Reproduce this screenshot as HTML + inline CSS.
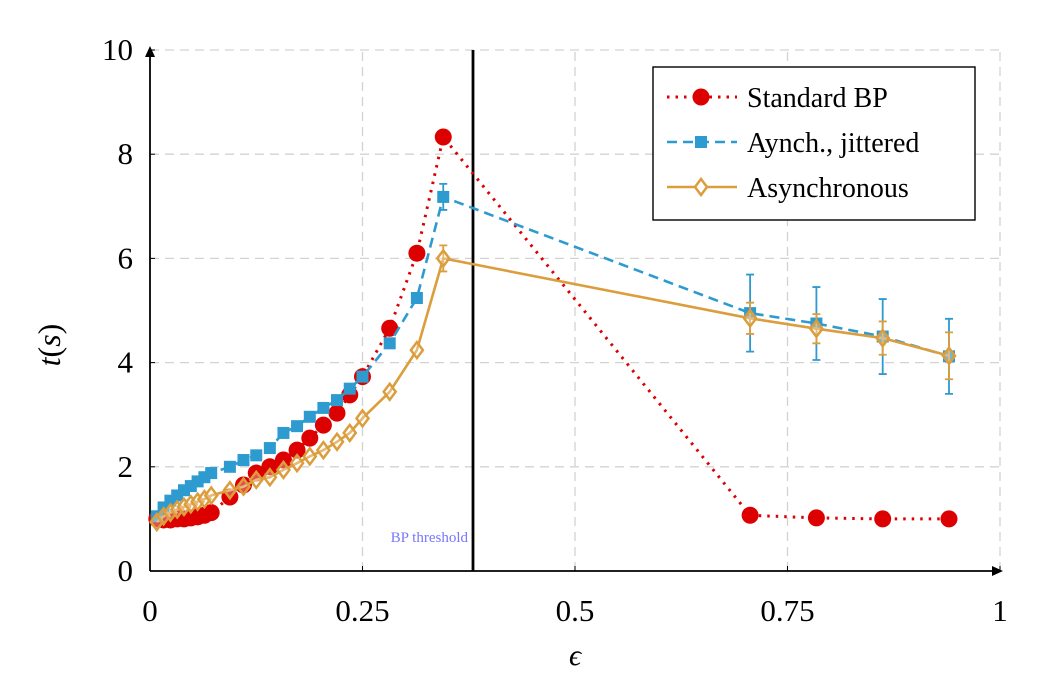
<!DOCTYPE html>
<html><head><meta charset="utf-8"><style>
html,body{margin:0;padding:0;background:#fff;}
svg{display:block;font-family:"Liberation Serif",serif;}
</style></head><body>
<svg id="chart" width="1043" height="674" viewBox="0 0 1043 674" xmlns="http://www.w3.org/2000/svg"></svg>
<script>
const epsilon = [0.008,0.016,0.024,0.032,0.040,0.048,0.056,0.064,0.072,0.094,0.110,0.125,0.141,0.157,0.173,0.188,0.204,0.220,0.235,0.250,0.282,0.314,0.345,0.706,0.784,0.862,0.940];
const standardBP = [1.0,0.98,0.98,1.0,1.0,1.02,1.04,1.07,1.12,1.42,1.65,1.88,2.0,2.13,2.32,2.55,2.8,3.03,3.38,3.73,4.66,6.1,8.33,1.07,1.02,1.0,1.0];
const jittered = [1.05,1.22,1.35,1.45,1.55,1.63,1.72,1.8,1.88,2.0,2.13,2.22,2.36,2.65,2.78,2.96,3.13,3.28,3.5,3.73,4.37,5.24,7.18,4.95,4.75,4.5,4.12];
const jitteredErr = [0,0,0,0,0,0,0,0,0,0,0,0,0,0,0,0,0,0,0,0,0,0,0.25,0.74,0.7,0.72,0.72];
const asynchronous = [0.94,1.05,1.12,1.18,1.23,1.28,1.33,1.38,1.45,1.55,1.62,1.75,1.8,1.94,2.07,2.2,2.32,2.48,2.65,2.93,3.44,4.24,6.0,4.85,4.65,4.47,4.13];
const asyncErr = [0,0,0,0,0,0,0,0,0,0,0,0,0,0,0,0,0,0,0,0,0,0,0.25,0.3,0.28,0.32,0.45];
const xTicks = [0,0.25,0.5,0.75,1];
const xTickLabels = ["0","0.25","0.5","0.75","1"];
const yTicks = [0,2,4,6,8,10];
const yTickLabels = ["0","2","4","6","8","10"];
const threshold = 0.38;

const NS="http://www.w3.org/2000/svg";
const svg=document.getElementById('chart');
const X0=150,X1=1000,Y0=571,Y1=50;
const sx=v=>X0+v*(X1-X0);
const sy=v=>Y0-v/10*(Y0-Y1);
function mk(tag,attrs,parent){const e=document.createElementNS(NS,tag);for(const k in attrs)e.setAttribute(k,attrs[k]);(parent||svg).appendChild(e);return e;}

const grid=mk('g',{});


xTicks.slice(1).forEach(v=>{const l=mk('line',{x1:sx(v),x2:sx(v),y1:Y0,y2:Y1,stroke:'#d3d3d3','stroke-width':1.3,'stroke-dasharray':'9,6'},grid);

});
yTicks.slice(1).forEach(v=>{const l=mk('line',{x1:X0,x2:X1,y1:sy(v),y2:sy(v),stroke:'#d3d3d3','stroke-width':1.3,'stroke-dasharray':'9,6'},grid);

});

const xa=mk('path',{d:`M${X0} ${Y0}H1000`,stroke:'#000','stroke-width':1.8,fill:'none'});


mk('path',{d:`M1003 ${Y0}l-11 -5v10z`,fill:'#000'});
const ya=mk('path',{d:`M${X0} ${Y0}V50`,stroke:'#000','stroke-width':1.8,fill:'none'});


mk('path',{d:`M${X0} 46l-5 11h10z`,fill:'#000'});
xTicks.forEach((v,i)=>{mk('line',{x1:sx(v),x2:sx(v),y1:Y0,y2:Y0-5,stroke:'#000','stroke-width':1});
const t=mk('text',{x:sx(v),y:621,'font-size':31,'text-anchor':'middle'});t.textContent=xTickLabels[i];

});
yTicks.forEach((v,i)=>{mk('line',{x1:X0,x2:X0+5,y1:sy(v),y2:sy(v),stroke:'#000','stroke-width':1});
const t=mk('text',{x:133,y:sy(v)+10,'font-size':31,'text-anchor':'end'});t.textContent=yTickLabels[i];

});
const xt=mk('text',{x:575,y:665,'font-size':30,'font-style':'italic','text-anchor':'middle'});xt.textContent='ϵ';


const yt=mk('text',{x:0,y:0,'font-size':32,'text-anchor':'middle',transform:'translate(60 345) rotate(-90)'});
yt.innerHTML='<tspan font-style="italic">t</tspan>(<tspan font-style="italic">s</tspan>)';



const th=mk('line',{x1:sx(threshold),x2:sx(threshold),y1:Y0,y2:Y1,stroke:'#000','stroke-width':2.8});


const tt=mk('text',{x:sx(threshold)-5,y:542,'font-size':15,fill:'#7777ff','text-anchor':'end'});tt.textContent='BP threshold';



function series(name,vals,errs,color,dash,marker){
  const g=mk('g',{});
  
  
  const pts=epsilon.map((e,i)=>`${sx(e).toFixed(1)},${sy(vals[i]).toFixed(1)}`).join(' ');
  mk('polyline',{points:pts,fill:'none',stroke:color,'stroke-width':marker==='circle'?3:2.6,'stroke-dasharray':dash},g);
  epsilon.forEach((e,i)=>{
    const x=sx(e),y=sy(vals[i]);
    if(errs&&errs[i]>0){const t=sy(vals[i]+errs[i]),b=sy(vals[i]-errs[i]);
      mk('path',{d:`M${x} ${t}V${b}M${x-4} ${t}h8M${x-4} ${b}h8`,stroke:color,'stroke-width':1.8,fill:'none'},g);}
    let m;
    if(marker==='circle')m=mk('circle',{cx:x,cy:y,r:8.5,fill:color},g);
    else if(marker==='square')m=mk('rect',{x:x-6,y:y-6,width:12,height:12,fill:color},g);
    else m=mk('path',{d:`M${x} ${y-8}l6 8l-6 8l-6 -8z`,fill:'#fff','fill-opacity':0.3,stroke:color,'stroke-width':2.5},g);
    
    
  });
}
series('standard-bp-series',standardBP,null,'#dd0000','2.5,6','circle');
series('jittered-series',jittered,jitteredErr,'#2e9bd0','10,6','square');
series('asynchronous-series',asynchronous,asyncErr,'#dc9d3c','none','diamond');

const lg=mk('g',{});


mk('rect',{x:653,y:67,width:322,height:153,fill:'#fff',stroke:'#000','stroke-width':1.4},lg);
const items=[['Standard BP','#dd0000','2.5,6','circle',97],['Aynch., jittered','#2e9bd0','10,6','square',142],['Asynchronous','#dc9d3c','none','diamond',187]];
items.forEach(([lab,c,d,m,y])=>{
  const e=mk('g',{},lg);
  
  
  mk('line',{x1:667,x2:737,y1:y,y2:y,stroke:c,'stroke-width':m==='circle'?3:2.6,'stroke-dasharray':d},e);
  if(m==='circle')mk('circle',{cx:701,cy:y,r:8.5,fill:c},e);
  else if(m==='square')mk('rect',{x:695,y:y-6,width:12,height:12,fill:c},e);
  else mk('path',{d:`M701 ${y-8}l6 8l-6 8l-6 -8z`,fill:'#fff',stroke:c,'stroke-width':2.5},e);
  const t=mk('text',{x:747,y:y+10,'font-size':28},e);t.textContent=lab;
});
</script>
</body></html>
